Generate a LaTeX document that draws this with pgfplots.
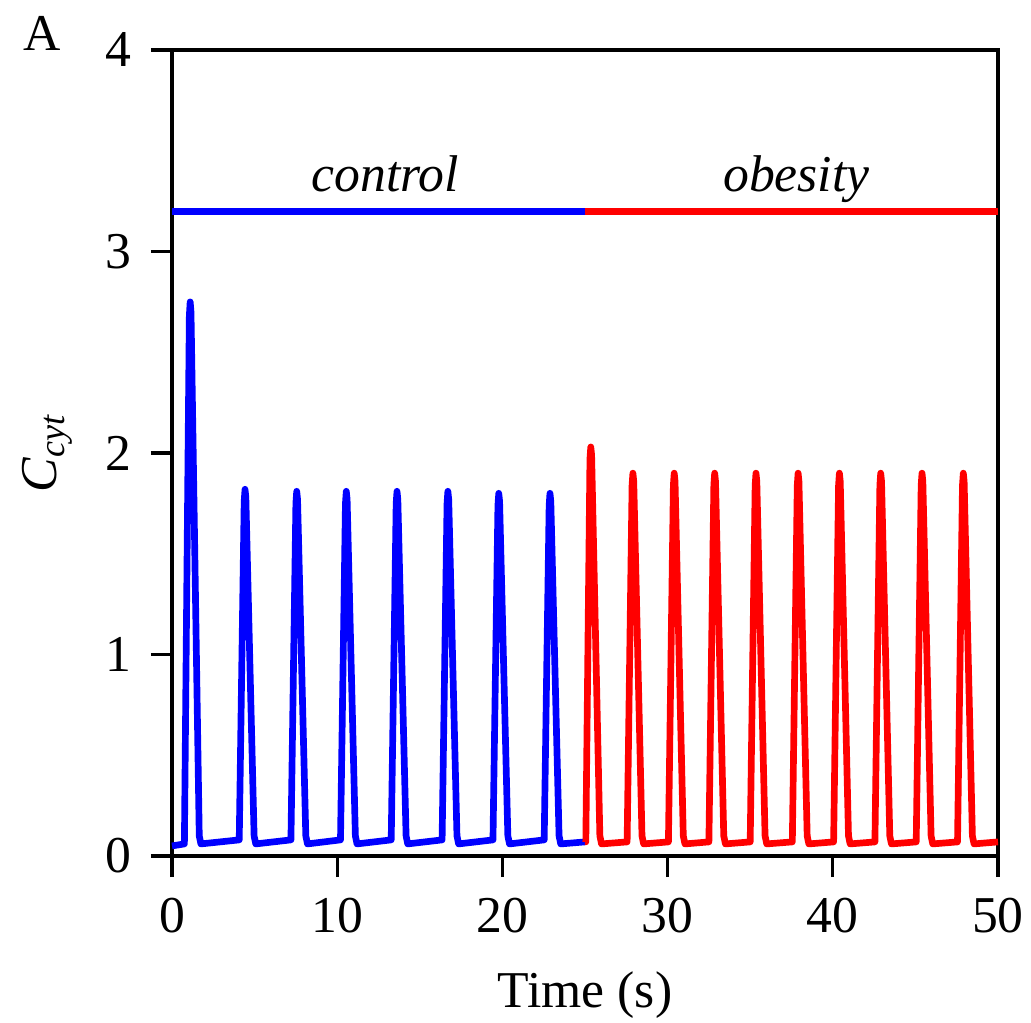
\documentclass[border=0pt]{standalone}
\usepackage{pgfplots}
\pgfplotsset{compat=1.18}
\usepackage{fontspec}
\setmainfont{Liberation Serif}

\definecolor{ctrl}{RGB}{0,0,255}
\definecolor{obes}{RGB}{255,0,0}

\begin{document}
\begin{tikzpicture}
\useasboundingbox (-1.72cm,-1.66cm) rectangle (8.59cm,8.56cm);
\begin{axis}[
  at={(0,0)}, anchor=south west,
  scale only axis,
  width=8.26cm, height=8.06cm,
  xmin=0, xmax=50, ymin=0, ymax=4,
  xtick={0,10,20,30,40,50},
  ytick={0,1,2,3,4},
  tick align=outside,
  xtick pos=bottom, ytick pos=left,
  major tick length=0.21cm,
  axis line style={line width=0.9pt},
  every tick/.style={line width=0.9pt, black},
  /pgf/number format/assume math mode=true,
  font=\fontsize{14.7}{17}\selectfont,
  tick label style={font=\fontsize{14.7}{17}\selectfont},
  xticklabel style={yshift=-0.09cm},
  yticklabel style={xshift=-0.07cm},
  every axis x label/.style={at={(axis description cs:0.5,-0.172)}, anchor=center},
  every axis y label/.style={at={(axis description cs:-0.151,0.5)}, anchor=center, rotate=90},
  xlabel={Time (s)},
  ylabel={\textit{C}\textsubscript{\textit{cyt}}},
  clip=false,
]
% control period
\addplot[ctrl, line width=1.9pt, line join=round] coordinates {
(0,0.05) (0.75,0.06) (1.05,2.68) (1.1,2.75) (1.15,2.70) (1.65,0.10) (1.75,0.06)
(4.07,0.08) (4.37,1.76) (4.42,1.82) (4.47,1.78) (4.97,0.10) (5.07,0.06)
(7.2,0.08) (7.5,1.75) (7.55,1.81) (7.6,1.77) (8.1,0.10) (8.2,0.06)
(10.2,0.08) (10.5,1.75) (10.55,1.81) (10.6,1.77) (11.1,0.10) (11.2,0.06)
(13.27,0.08) (13.57,1.75) (13.62,1.81) (13.67,1.77) (14.17,0.10) (14.27,0.06)
(16.35,0.08) (16.65,1.75) (16.7,1.81) (16.75,1.77) (17.25,0.10) (17.35,0.06)
(19.43,0.08) (19.73,1.74) (19.78,1.80) (19.83,1.76) (20.33,0.10) (20.43,0.06)
(22.53,0.08) (22.83,1.74) (22.88,1.80) (22.93,1.76) (23.43,0.10) (23.53,0.06)
(25,0.07)
};
% obesity period
\addplot[obes, line width=1.9pt, line join=round] coordinates {
(25,0.07) (25.05,0.07) (25.3,1.97) (25.35,2.03) (25.4,1.99) (25.9,0.10) (26.0,0.06)
(27.55,0.07) (27.85,1.84) (27.9,1.90) (27.95,1.86) (28.45,0.10) (28.55,0.06)
(30.05,0.07) (30.35,1.84) (30.4,1.90) (30.45,1.86) (30.95,0.10) (31.05,0.06)
(32.5,0.07) (32.8,1.84) (32.85,1.90) (32.9,1.86) (33.4,0.10) (33.5,0.06)
(35.0,0.07) (35.3,1.84) (35.35,1.90) (35.4,1.86) (35.9,0.10) (36.0,0.06)
(37.55,0.07) (37.85,1.84) (37.9,1.90) (37.95,1.86) (38.45,0.10) (38.55,0.06)
(40.05,0.07) (40.35,1.84) (40.4,1.90) (40.45,1.86) (40.95,0.10) (41.05,0.06)
(42.55,0.07) (42.85,1.84) (42.9,1.90) (42.95,1.86) (43.45,0.10) (43.55,0.06)
(45.05,0.07) (45.35,1.84) (45.4,1.90) (45.45,1.86) (45.95,0.10) (46.05,0.06)
(47.55,0.07) (47.85,1.84) (47.9,1.90) (47.95,1.86) (48.45,0.10) (48.55,0.06)
(50,0.07)
};
% condition bars
\addplot[ctrl, line width=2.1pt] coordinates {(0,3.2) (25,3.2)};
\addplot[obes, line width=2.1pt] coordinates {(25,3.2) (50,3.2)};
\node[font=\fontsize{14.7}{17}\selectfont\itshape, anchor=base] at (axis cs:12.9,3.30) {control};
\node[font=\fontsize{14.7}{17}\selectfont\itshape, anchor=base] at (axis cs:37.8,3.30) {obesity};
\end{axis}
\node[font=\fontsize{14.7}{17}\selectfont] at (-1.30cm,8.23cm) {A};
\end{tikzpicture}
\end{document}
